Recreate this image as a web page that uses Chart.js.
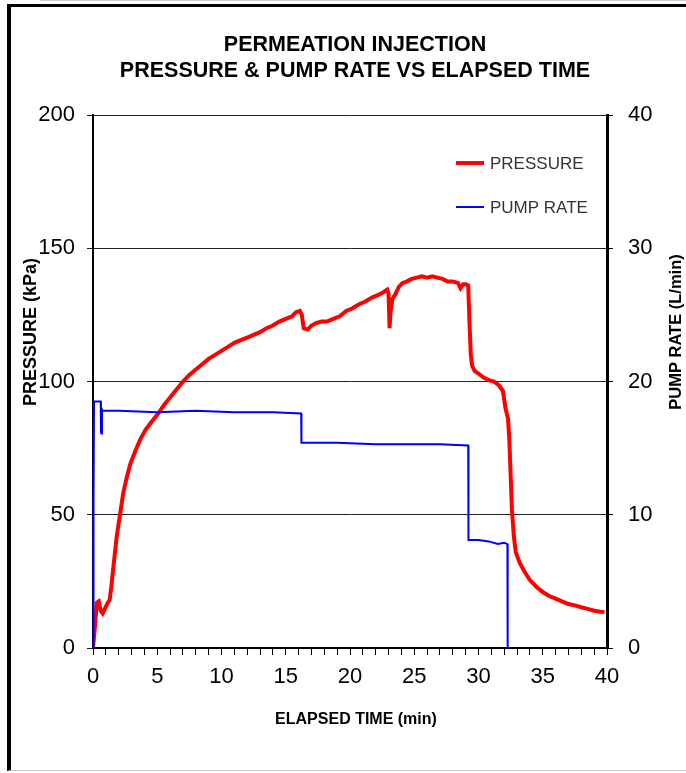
<!DOCTYPE html>
<html>
<head>
<meta charset="utf-8">
<script src="https://cdn.jsdelivr.net/npm/chart.js@4.4.1/dist/chart.umd.min.js"></script>
<style>
  html, body { margin: 0; padding: 0; background: #fff; }
  body { width: 686px; height: 773px; position: relative; overflow: hidden; }
  #chart { position: absolute; left: 0; top: 0; }
  .frame {
    position: absolute; left: 7px; top: 4px; width: 675px; height: 763px;
    border-top: 3px solid #000; border-left: 4px solid #000; border-bottom: 1px solid #ccc;
    pointer-events: none;
  }
  .topline { position: absolute; left: 40px; top: 0; width: 646px; height: 1px; background: #ccc; }
</style>
</head>
<body>
<div class="topline"></div>
<div class="frame"></div>
<canvas id="chart" width="686" height="773"></canvas>
<script>
// pressure (kPa)
const pressureTime = [0, 0.15, 0.3, 0.45, 0.6, 0.75, 0.95, 1.15, 1.3, 1.45, 1.6, 1.85, 2.1, 2.35, 2.6, 2.9,
  3.3, 3.7, 4.1, 4.5, 5.0, 5.5, 6.0, 6.5, 7.0, 7.5, 8.0, 8.5, 9.0, 9.5, 10, 10.5, 11, 11.5, 12, 12.5,
  13, 13.5, 14, 14.5, 15, 15.5, 15.8, 16.1, 16.25, 16.4, 16.7, 17.0, 17.4, 17.8, 18.2, 18.7, 19.2, 19.7,
  20.2, 20.7, 21.2, 21.7, 22.2, 22.6, 22.9, 23.0, 23.08, 23.15, 23.3, 23.5, 23.8, 24.1, 24.4, 24.8,
  25.2, 25.6, 26.0, 26.4, 26.8, 27.2, 27.6, 28.0, 28.4, 28.6, 28.8, 29.0, 29.2, 29.3, 29.4, 29.5, 29.7,
  30.0, 30.4, 30.8, 31.2, 31.6, 31.9, 32.1, 32.3, 32.4, 32.5, 32.6, 32.75, 32.9, 33.2, 33.6, 34.0, 34.5,
  35.0, 35.5, 36.0, 36.5, 37.0, 37.5, 38.0, 38.5, 39.0, 39.5, 39.8]
const pressure = [0, 8, 17, 17.5, 14, 13, 15, 17, 18, 24, 31, 42, 50, 58, 63.5, 69,
  74, 78.5, 82, 84.5, 87.5, 91, 94, 97, 100, 102.5, 104.5, 106.5, 108.5, 110, 111.5, 113, 114.5, 115.5, 116.5, 117.5,
  118.5, 120, 121, 122.5, 123.5, 124.5, 126, 126.5, 125, 120, 119.5, 121, 122, 122.5, 122.5, 123.5, 124.5, 126.5,
  127.5, 129, 130, 131.5, 132.5, 133.5, 134.5, 133, 120, 126, 131, 132.5, 135.5, 137, 137.5, 138.5,
  139, 139.5, 139, 139.5, 139, 138.5, 137.5, 137.5, 137, 135, 136.5, 136.5, 136, 122, 110, 106, 104,
  103, 101.5, 100.5, 100, 98.5, 96.5, 90, 86, 78, 65, 52, 42, 36, 32, 28.5, 25.5, 23,
  21, 19.5, 18.5, 17.5, 16.5, 16, 15.3, 14.7, 14, 13.6, 13.5]

// pump rate (L/min)
const pumpTime = [0, 0.04, 0.08, 0.5, 0.6, 0.62, 0.66, 0.7, 0.75, 2, 5, 8, 11, 14, 16.2, 16.22,
  19, 22, 25, 27, 29.2, 29.22, 30, 30.8, 31.5, 32.0, 32.25, 32.27]
const pumpRate = [0, 11, 18.5, 18.5, 18.5, 16.2, 16.1, 17.9, 17.8, 17.8, 17.7, 17.8, 17.7, 17.7, 17.6, 15.4,
  15.4, 15.3, 15.3, 15.3, 15.2, 8.1, 8.1, 8.0, 7.8, 7.9, 7.8, 0]

const titleLines = ['PERMEATION INJECTION', 'PRESSURE & PUMP RATE VS ELAPSED TIME']
const seriesNames = ['PRESSURE', 'PUMP RATE']
const xTitle = 'ELAPSED TIME (min)'
const yTitle = 'PRESSURE (kPa)'
const y2Title = 'PUMP RATE (L/min)'

const SANS = "'Liberation Sans', Arial, sans-serif"

// axis titles and legend drawn by hand (right title reads bottom-to-top)
const extras = {
  id: 'extras',
  afterDatasetsDraw(chart) {
    const ctx = chart.ctx
    const a = chart.chartArea
    ctx.save()
    ctx.fillStyle = '#000'
    ctx.textAlign = 'center'
    ctx.textBaseline = 'middle'
    ;[[31, yTitle, 18], [676, y2Title, 16.5]].forEach(([x, txt, size]) => {
      ctx.save()
      ctx.font = "bold " + size + "px " + SANS
      ctx.translate(x, 332)
      ctx.rotate(-Math.PI / 2)
      ctx.fillText(txt, 0, 0)
      ctx.restore()
    })
    ctx.font = "bold 16px " + SANS
    ctx.fillText(xTitle, 356, 720)

    const items = [
      { color: '#ff0000', width: 4, y: a.top + 48 },
      { color: '#0000ff', width: 2, y: a.top + 92 }
    ]
    ctx.font = "17px " + SANS
    ctx.textAlign = 'left'
    items.forEach((it, i) => {
      ctx.beginPath()
      ctx.strokeStyle = it.color
      ctx.lineWidth = it.width
      ctx.moveTo(a.right - 151, it.y)
      ctx.lineTo(a.right - 123, it.y)
      ctx.stroke()
      ctx.fillStyle = '#333'
      ctx.fillText(seriesNames[i], a.right - 117, it.y + 1)
    })
    ctx.restore()
  }
}

new Chart(document.getElementById('chart'), {
  type: 'line',
  data: {
    datasets: [
      {
        label: seriesNames[0],
        data: pressureTime.map((t, i) => ({ x: t, y: pressure[i] })),
        borderColor: '#ff0000',
        borderWidth: 4,
        pointRadius: 0,
        tension: 0,
        yAxisID: 'y',
        order: 1
      },
      {
        label: seriesNames[1],
        data: pumpTime.map((t, i) => ({ x: t, y: pumpRate[i] })),
        borderColor: '#0000ff',
        borderWidth: 2,
        pointRadius: 0,
        tension: 0,
        yAxisID: 'y2',
        clip: false,
        order: 0
      }
    ]
  },
  options: {
    responsive: false,
    animation: false,
    layout: { padding: { left: 24, right: 0, top: 0, bottom: 42 } },
    plugins: {
      legend: { display: false },
      tooltip: { enabled: false },
      title: {
        display: true,
        text: titleLines,
        color: '#000',
        font: { family: SANS, size: 21.5, weight: 'bold', lineHeight: 1.21 },
        padding: { top: 32, bottom: 31 }
      }
    },
    scales: {
      x: {
        type: 'linear',
        min: 0,
        max: 40,
        border: { display: true, color: '#000', width: 2 },
        grid: { drawOnChartArea: false, drawTicks: true, tickLength: 7, color: '#000' },
        ticks: {
          stepSize: 1,
          autoSkip: false,
          maxRotation: 0,
          padding: 9,
          color: '#000',
          font: { family: SANS, size: 22 },
          callback: v => (v % 5 === 0 ? v : '')
        },
        afterFit: s => { s.height = 83 }
      },
      y: {
        position: 'left',
        min: 0,
        max: 200,
        border: { display: true, color: '#000', width: 2 },
        grid: { color: '#222', lineWidth: 1, tickLength: 6 },
        ticks: { stepSize: 50, padding: 12, color: '#000', font: { family: SANS, size: 22 } },
        afterFit: s => { s.width = 69 }
      },
      y2: {
        position: 'right',
        min: 0,
        max: 40,
        border: { display: true, color: '#000', width: 3 },
        grid: { drawOnChartArea: false, tickLength: 6, color: '#000' },
        ticks: { stepSize: 10, padding: 15, color: '#000', font: { family: SANS, size: 22 } },
        afterFit: s => { s.width = 79 }
      }
    }
  },
  plugins: [extras]
})
</script>
</body>
</html>
